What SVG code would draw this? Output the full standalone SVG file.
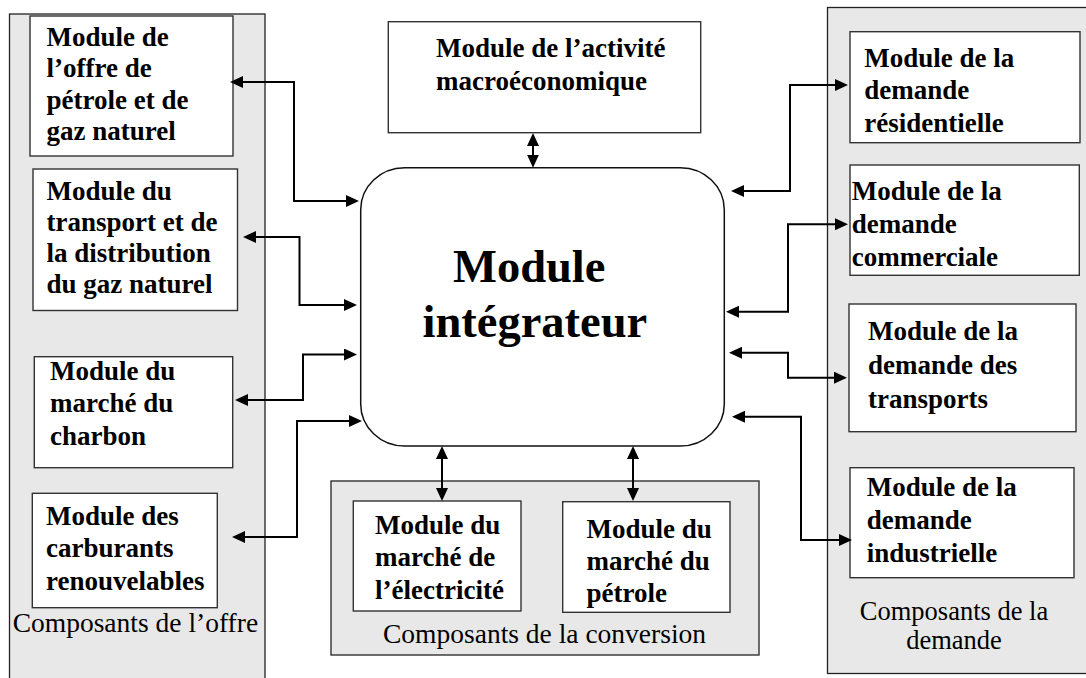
<svg xmlns="http://www.w3.org/2000/svg" width="1086" height="678" viewBox="0 0 1086 678">
<style>
.panel{fill:#e8e8e8;stroke:#222;stroke-width:1.3}
.box{fill:#fff;stroke:#333;stroke-width:1.4}
.core{fill:#fff;stroke:#111;stroke-width:1.5}
.b{font-family:"Liberation Serif","Times New Roman",serif;font-weight:bold;font-size:27px;fill:#000}
.r{font-family:"Liberation Serif","Times New Roman",serif;font-size:27.5px;fill:#000}
.rs{font-family:"Liberation Serif","Times New Roman",serif;font-size:26.5px;fill:#000}
.big{font-family:"Liberation Serif","Times New Roman",serif;font-weight:bold;font-size:46.5px;fill:#000}
.c{fill:none;stroke:#000;stroke-width:2;marker-start:url(#ah);marker-end:url(#ah)}
</style>
<defs>
<marker id="ah" markerUnits="userSpaceOnUse" markerWidth="14" markerHeight="12" refX="10" refY="6" orient="auto-start-reverse" viewBox="0 0 14 12">
<path d="M0,0 L13,6 L0,12 z" fill="#000"/>
</marker>
</defs>
<rect width="1086" height="678" fill="#fff"/>
<g id="panel-offre">
<rect class="panel" x="9.5" y="14" width="255.5" height="700"/>
<text class="r" x="12.7" y="631.5">Composants de l’offre</text>
</g>
<g id="panel-conversion">
<rect class="panel" x="331" y="481" width="428" height="174"/>
<text class="r" x="383" y="643">Composants de la conversion</text>
</g>
<g id="panel-demande">
<rect class="panel" x="827.5" y="7.5" width="300" height="666"/>
<text class="rs" x="954" y="619.5" text-anchor="middle">Composants de la</text>
<text class="rs" x="954" y="649" text-anchor="middle">demande</text>
</g>
<g id="offre-petrole-gaz">
<rect class="box" x="30" y="16" width="203" height="140"/>
<text class="b" x="46.5"><tspan x="46.5" y="45.5">Module de</tspan><tspan x="46.5" y="77">l’offre de</tspan><tspan x="46.5" y="108.5">pétrole et de</tspan><tspan x="46.5" y="140">gaz naturel</tspan></text>
</g>
<g id="transport-gaz">
<rect class="box" x="33" y="169" width="204.5" height="141.5"/>
<text class="b"><tspan x="46.5" y="200">Module du</tspan><tspan x="46.5" y="231">transport et de</tspan><tspan x="46.5" y="262">la distribution</tspan><tspan x="46.5" y="293">du gaz naturel</tspan></text>
</g>
<g id="charbon">
<rect class="box" x="34.3" y="356.7" width="198.4" height="111"/>
<text class="b"><tspan x="50" y="379.5">Module du</tspan><tspan x="50" y="412">marché du</tspan><tspan x="50" y="445">charbon</tspan></text>
</g>
<g id="carburants">
<rect class="box" x="32.3" y="493.3" width="185" height="114.4"/>
<text class="b"><tspan x="46" y="525">Module des</tspan><tspan x="46" y="557">carburants</tspan><tspan x="46" y="590">renouvelables</tspan></text>
</g>
<g id="macro">
<rect class="box" x="388.3" y="21.7" width="312.4" height="111"/>
<text class="b"><tspan x="436" y="57">Module de l’activité</tspan><tspan x="436" y="90">macroéconomique</tspan></text>
</g>
<g id="integrateur">
<rect class="core" x="360.7" y="167.7" width="363.6" height="278.3" rx="44" ry="42"/>
<text class="big"><tspan x="453" y="282">Module</tspan><tspan x="422.5" y="337">intégrateur</tspan></text>
</g>
<g id="electricite">
<rect class="box" x="353.3" y="501" width="167.7" height="110"/>
<text class="b"><tspan x="375" y="534">Module du</tspan><tspan x="375" y="566">marché de</tspan><tspan x="375" y="599">l’électricité</tspan></text>
</g>
<g id="petrole">
<rect class="box" x="562.7" y="501.7" width="167.3" height="110.6"/>
<text class="b"><tspan x="586.5" y="538">Module du</tspan><tspan x="586.5" y="570">marché du</tspan><tspan x="586.5" y="602">pétrole</tspan></text>
</g>
<g id="residentielle">
<rect class="box" x="850" y="31.7" width="230" height="111"/>
<text class="b"><tspan x="864.3" y="66.5">Module de la</tspan><tspan x="864.3" y="99">demande</tspan><tspan x="864.3" y="131.5">résidentielle</tspan></text>
</g>
<g id="commerciale">
<rect class="box" x="850" y="165" width="229.3" height="110.3"/>
<text class="b"><tspan x="851.7" y="199.5">Module de la</tspan><tspan x="851.7" y="232.5">demande</tspan><tspan x="851.7" y="265.5">commerciale</tspan></text>
</g>
<g id="transports">
<rect class="box" x="849" y="304" width="227" height="127.7"/>
<text class="b"><tspan x="868" y="339.5">Module de la</tspan><tspan x="868" y="374">demande des</tspan><tspan x="868" y="407.5">transports</tspan></text>
</g>
<g id="industrielle">
<rect class="box" x="850" y="467.7" width="224" height="110"/>
<text class="b"><tspan x="866.7" y="496">Module de la</tspan><tspan x="866.7" y="529">demande</tspan><tspan x="866.7" y="562">industrielle</tspan></text>
</g>
<g id="connectors">
<path class="c" d="M233,82 H294 V201 H356"/>
<path class="c" d="M246,237 H299.5 V305 H354"/>
<path class="c" d="M354,354.5 H303 V400 H238"/>
<path class="c" d="M359,421 H297 V537 H235"/>
<path class="c" d="M533,136 V164.7"/>
<path class="c" d="M442,449 V498"/>
<path class="c" d="M633,449 V498"/>
<path class="c" d="M845,85 H790 V191 H734"/>
<path class="c" d="M845,224.3 H788 V311.7 H729"/>
<path class="c" d="M732,352.7 H788 V377.7 H844"/>
<path class="c" d="M735,416.7 H801 V540 H849"/>
</g>
</svg>
